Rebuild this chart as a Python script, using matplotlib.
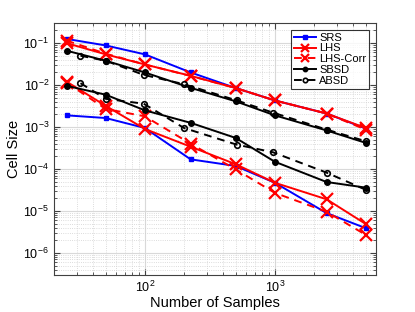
import matplotlib
matplotlib.use('Agg')
import matplotlib.pyplot as plt
from matplotlib.ticker import NullFormatter

plt.rcParams['font.family'] = ['Liberation Sans', 'DejaVu Sans']
plt.rcParams['mathtext.default'] = 'regular'

# sample counts
n_std = [25, 50, 100, 225, 500, 1000, 2500, 5000]
n_absd = [32, 50, 98, 200, 510, 970, 2500, 5000]

# upper group
srs_hi = [0.126, 0.088, 0.054, 0.020, 0.0085, 0.0043, 0.0021, 0.00092]
lhs_hi = [0.100, 0.054, 0.031, 0.0166, 0.0085, 0.0043, 0.0021, 0.00095]
lhsc_hi = [0.115, 0.056, 0.031, 0.0165, 0.0085, 0.0043, 0.0021, 0.00087]
sbsd_hi = [0.066, 0.038, 0.020, 0.0086, 0.0041, 0.0019, 0.00083, 0.00042]
absd_hi = [0.050, 0.038, 0.0175, 0.0105, 0.0043, 0.0022, 0.00087, 0.00046]

# lower group
srs_lo = [0.0019, 0.00164, 0.00095, 0.00017, 0.000118, 4.7e-5, 8.9e-6, 3.9e-6]
lhs_lo = [0.0121, 0.0032, 0.00090, 0.00034, 0.000130, 4.7e-5, 1.9e-5, 4.9e-6]
lhsc_lo = [0.0115, 0.0027, 0.0018, 0.00040, 9.8e-5, 2.7e-5, 9.6e-6, 2.7e-6]
sbsd_lo = [0.0096, 0.0059, 0.0025, 0.00126, 0.00055, 0.000149, 4.9e-5, 3.6e-5]
absd_lo = [0.0111, 0.0047, 0.0036, 0.00095, 0.00038, 0.00025, 8.2e-5, 3.2e-5]

fig = plt.figure(figsize=(4.15, 3.12), dpi=100)
ax = fig.add_axes([0.130, 0.119, 0.776, 0.807])

srs_kw = dict(color='#0000ff', marker='s', ms=3.5, lw=1.4, ls='-')
lhs_kw = dict(color='#ff0000', marker='x', ms=8, mew=1.6, lw=1.4, ls='-')
lhsc_kw = dict(color='#ff0000', marker='x', ms=8, mew=1.6, lw=1.4, ls='--', dashes=(4, 3))
sbsd_kw = dict(color='black', marker='o', ms=4, lw=1.4, ls='-')
absd_kw = dict(color='black', marker='o', ms=4, mfc='none', mew=1.2, lw=1.4, ls='--', dashes=(4, 3))

ax.loglog(n_std, srs_hi, label='SRS', **srs_kw)
ax.loglog(n_std, lhs_hi, label='LHS', **lhs_kw)
ax.loglog(n_std, lhsc_hi, label='LHS-Corr', **lhsc_kw)
ax.loglog(n_std, sbsd_hi, label='SBSD', **sbsd_kw)
ax.loglog(n_absd, absd_hi, label='ABSD', **absd_kw)

ax.loglog(n_std, srs_lo, **srs_kw)
ax.loglog(n_std, lhs_lo, **lhs_kw)
ax.loglog(n_std, lhsc_lo, **lhsc_kw)
ax.loglog(n_std, sbsd_lo, **sbsd_kw)
ax.loglog(n_absd, absd_lo, **absd_kw)

ax.set_xlim(20, 6000)
ax.set_ylim(3e-7, 3e-1)
ax.xaxis.set_minor_formatter(NullFormatter())
ax.yaxis.set_minor_formatter(NullFormatter())

ax.grid(True, which='major', color='#d9d9d9', lw=0.8, ls='-')
ax.grid(True, which='minor', color='#d0d0d0', lw=0.6, ls=':')
ax.set_axisbelow(True)
ax.tick_params(which='both', direction='in', top=True, right=True,
               labelsize=9, color='#404040')
ax.tick_params(which='major', length=4)
ax.tick_params(which='minor', length=2)
for s in ax.spines.values():
    s.set_color('#404040')
    s.set_linewidth(0.8)

ax.set_xlabel('Number of Samples', fontsize=10.5, labelpad=1)
ax.set_ylabel('Cell Size', fontsize=10.5, labelpad=2)

leg = ax.legend(loc='upper right', fontsize=8, frameon=True, fancybox=False,
                edgecolor='black', handlelength=2.0, handletextpad=0.3,
                labelspacing=0.08, borderpad=0.25, borderaxespad=0.6,
                markerscale=0.8)
leg.get_frame().set_linewidth(0.8)

fig.savefig('out.png', dpi=100)
